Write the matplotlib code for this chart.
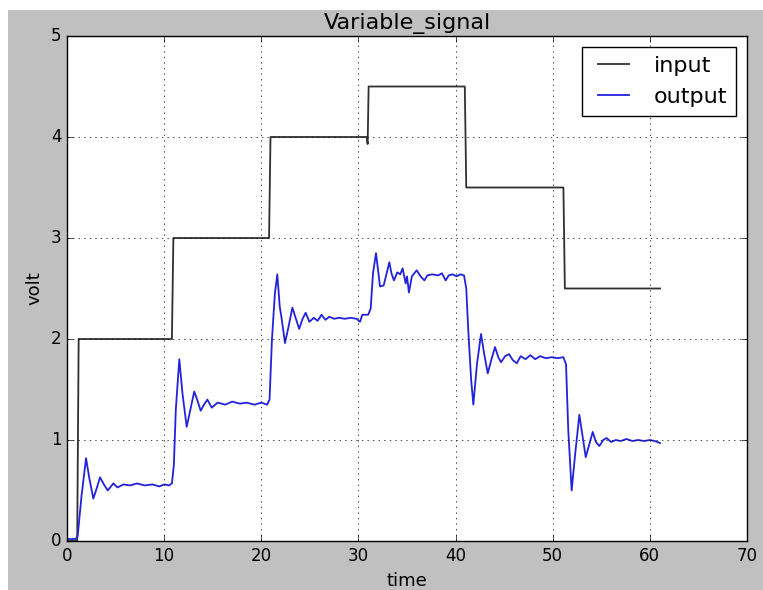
import matplotlib
matplotlib.use('Agg')
import matplotlib.pyplot as plt
from matplotlib.patches import Rectangle

# input signal (step levels)
t_in = [0, 1.05, 1.2, 10.8, 10.95, 20.8, 20.95, 30.85, 30.95, 31.05,
        40.95, 41.1, 51.1, 51.25, 61.05]
v_in = [0, 0, 2.0, 2.0, 3.0, 3.0, 4.0, 4.0, 3.93, 4.5,
        4.5, 3.5, 3.5, 2.5, 2.5]

# output signal
t_out = [0, 0.9, 1.1, 1.5, 1.96, 2.3, 2.71, 3.05, 3.40, 3.8, 4.19, 4.77, 5.2, 5.8,
         6.5, 7.2, 8.0, 8.8, 9.5, 10.0, 10.5, 10.8, 11.0, 11.2, 11.56, 11.9, 12.32,
         12.7, 13.1, 13.4, 13.76, 14.1, 14.45, 14.9, 15.5, 16.3, 17.0, 17.8, 18.5,
         19.3, 20.0, 20.6, 20.85, 21.1, 21.4, 21.65, 21.9, 22.1, 22.44, 22.8, 23.2,
         23.5, 23.9, 24.25, 24.57, 24.95, 25.4, 25.8, 26.2, 26.6, 27.0, 27.5, 28.0,
         28.6, 29.2, 29.8, 30.16, 30.4, 31.0, 31.26, 31.5, 31.81, 32.0, 32.22, 32.6,
         32.9, 33.18, 33.4, 33.66, 34.0, 34.3, 34.55, 34.86, 35.0, 35.2, 35.5, 36.0,
         36.4, 36.79, 37.1, 37.6, 38.2, 38.6, 38.98, 39.3, 39.7, 40.1, 40.5, 40.87,
         41.1, 41.3, 41.6, 41.83, 42.2, 42.62, 42.95, 43.31, 43.7, 44.06, 44.4, 44.68,
         45.1, 45.5, 45.9, 46.3, 46.7, 47.2, 47.7, 48.2, 48.7, 49.3, 49.9, 50.5, 51.1,
         51.37, 51.6, 51.95, 52.3, 52.74, 53.05, 53.4, 53.8, 54.12, 54.45, 54.8, 55.2,
         55.55, 56.0, 56.5, 57.0, 57.6, 58.2, 58.8, 59.4, 60.0, 60.5, 61.05]
v_out = [0.02, 0.02, 0.05, 0.45, 0.82, 0.62, 0.42, 0.52, 0.63, 0.56, 0.50, 0.57, 0.53, 0.56,
         0.55, 0.57, 0.55, 0.56, 0.54, 0.56, 0.55, 0.57, 0.75, 1.3, 1.80, 1.45, 1.13,
         1.30, 1.48, 1.40, 1.29, 1.35, 1.40, 1.32, 1.37, 1.35, 1.38, 1.36, 1.37,
         1.35, 1.37, 1.35, 1.40, 2.0, 2.45, 2.64, 2.32, 2.2, 1.96, 2.12, 2.31,
         2.22, 2.10, 2.20, 2.26, 2.17, 2.21, 2.18, 2.24, 2.19, 2.22, 2.20, 2.21,
         2.20, 2.21, 2.20, 2.17, 2.24, 2.24, 2.30, 2.65, 2.85, 2.70, 2.52, 2.53,
         2.65, 2.76, 2.65, 2.58, 2.66, 2.64, 2.70, 2.55, 2.62, 2.46, 2.62, 2.68,
         2.62, 2.58, 2.63, 2.64, 2.63, 2.65, 2.58, 2.63, 2.64, 2.62, 2.64, 2.63,
         2.5, 2.1, 1.6, 1.35, 1.75, 2.05, 1.85, 1.66, 1.8, 1.92, 1.82, 1.77,
         1.83, 1.85, 1.79, 1.76, 1.83, 1.80, 1.84, 1.80, 1.83, 1.81, 1.82, 1.81, 1.82,
         1.75, 1.1, 0.50, 0.85, 1.25, 1.05, 0.83, 0.97, 1.08, 0.98, 0.94, 1.0,
         1.02, 0.98, 1.00, 0.99, 1.01, 0.99, 1.00, 0.99, 1.00, 0.99, 0.97]

plt.style.use('classic')

fig = plt.figure(figsize=(7.63, 5.9), dpi=100, facecolor='white')
fig.patches.append(Rectangle((8 / 763, 0), 1, 580 / 590, transform=fig.transFigure,
                             facecolor='#c0c0c0', edgecolor='none', zorder=-1))
ax = fig.add_axes([67 / 763, 49 / 590, 680 / 763, 505 / 590])

ax.plot(t_in, v_in, color='#303030', lw=1.3, label='input')
ax.plot(t_out, v_out, color='#2222dd', lw=1.3, label='output')

ax.set_xlim(0, 70)
ax.set_ylim(0, 5)
ax.set_title('Variable_signal', fontsize=16)
ax.set_xlabel('time', fontsize=13)
ax.set_ylabel('volt', fontsize=13)
ax.grid(True)
ax.legend(loc='upper right', fontsize=16)

fig.savefig('out.png', dpi=100, facecolor=fig.get_facecolor())
